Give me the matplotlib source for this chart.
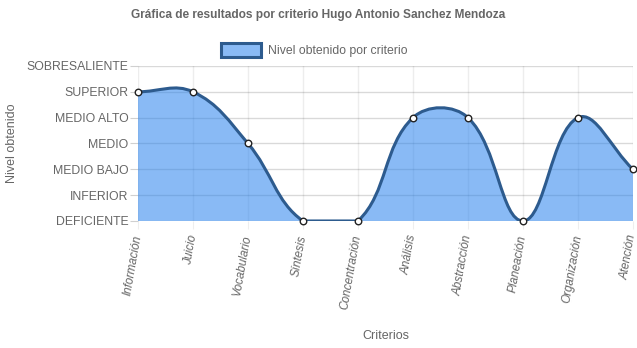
import numpy as np
import matplotlib
matplotlib.use("Agg")
import matplotlib.pyplot as plt
from matplotlib.path import Path
from matplotlib.patches import PathPatch, Patch

plt.rcParams['font.family'] = ['Liberation Sans', 'DejaVu Sans']

criterios = ["Información", "Juicio", "Vocabulario", "Síntesis", "Concentración",
             "Análisis", "Abstracción", "Planeación", "Organización", "Atención"]
niveles = ["DEFICIENTE", "INFERIOR", "MEDIO BAJO", "MEDIO", "MEDIO ALTO",
           "SUPERIOR", "SOBRESALIENTE"]
puntaje = [5, 5, 3, 0, 0, 4, 4, 0, 4, 2]

gris = "#666666"
linea = "#2d5b8e"
relleno = (40/255, 130/255, 237/255, 0.55)

fig = plt.figure(figsize=(6.37, 3.48), dpi=100)
ax = fig.add_axes([0.2166, 0.365, 0.7771, 0.4454])
xmin, xmax = 0, len(criterios) - 1
ax.set_xlim(xmin, xmax)
ax.set_ylim(0, len(niveles) - 1)

# spline con tension 0.4 calculada en pixeles, puntos de control limitados al area
W = ax.get_position().width * fig.get_figwidth() * fig.dpi
H = ax.get_position().height * fig.get_figheight() * fig.dpi
sx = W / (xmax - xmin)
sy = H / (len(niveles) - 1)
pts = np.array([[i * sx, v * sy] for i, v in enumerate(puntaje)])
t = 0.4
n = len(pts)
cps = []
for i in range(n):
    prev = pts[max(i - 1, 0)]
    cur = pts[i]
    nxt = pts[min(i + 1, n - 1)]
    d01 = np.hypot(*(cur - prev))
    d12 = np.hypot(*(nxt - cur))
    tot = d01 + d12
    s01 = d01 / tot if tot else 0
    s12 = d12 / tot if tot else 0
    cp_prev = cur - t * s01 * (nxt - prev)
    cp_next = cur + t * s12 * (nxt - prev)
    for cp in (cp_prev, cp_next):
        cp[0] = min(max(cp[0], 0), W)
        cp[1] = min(max(cp[1], 0), H)
    cps.append((cp_prev, cp_next))

verts = [pts[0]]
codes = [Path.MOVETO]
for i in range(n - 1):
    verts += [cps[i][1], cps[i + 1][0], pts[i + 1]]
    codes += [Path.CURVE4] * 3
verts = np.array(verts) / [sx, sy]

fill_verts = np.vstack([verts, [[xmax, 0], [xmin, 0], verts[0]]])
fill_codes = codes + [Path.LINETO, Path.LINETO, Path.CLOSEPOLY]
ax.add_patch(PathPatch(Path(fill_verts, fill_codes), facecolor=relleno,
                       edgecolor='none', zorder=2))
ax.add_patch(PathPatch(Path(verts, codes), facecolor='none', edgecolor=linea,
                       lw=2.2, zorder=3))
ax.scatter(range(n), puntaje, s=22, facecolor='white', edgecolor='#222222',
           linewidth=1.0, zorder=4, clip_on=False)

ax.set_yticks(range(len(niveles)))
ax.set_yticklabels(niveles, fontsize=8.8, color=gris)
ax.set_xticks(range(len(criterios)))
ax.set_xticklabels(criterios, fontsize=8.5, color=gris, rotation=80,
                   ha='right', va='center', rotation_mode='anchor', style='italic')
ax.tick_params(axis='y', length=6, color='#d0d0d0', pad=0.8)
ax.tick_params(axis='x', length=6, color='#eeeeee', pad=4)
for s in ax.spines.values():
    s.set_visible(False)
for y in range(len(niveles)):
    ax.axhline(y, color='#000000', alpha=0.15, lw=1, zorder=1)
for x in range(len(criterios)):
    ax.axvline(x, color='#000000', alpha=0.07, lw=1, zorder=1)

fig.text(12 / 637, 1 - 143 / 348, "Nivel obtenido", rotation=90, fontsize=9,
         color=gris, ha='center', va='center')
fig.text(385.5 / 637, 1 - 336 / 348, "Criterios", fontsize=9, color=gris,
         ha='center', va='center')

fig.suptitle("Gráfica de resultados por criterio Hugo Antonio Sanchez Mendoza",
             x=0.5, y=0.975, fontsize=8.6, fontweight='bold', color=gris)
handle = Patch(facecolor=(137/255, 186/255, 245/255), edgecolor=linea, linewidth=2.2)
fig.legend([handle], ["Nivel obtenido por criterio"], loc='center',
           bbox_to_anchor=(0.493, 0.856), frameon=False, fontsize=8.8,
           handlelength=3.3, handleheight=1.35, handletextpad=0.5, labelcolor=gris)

fig.savefig("out.png", dpi=100)
